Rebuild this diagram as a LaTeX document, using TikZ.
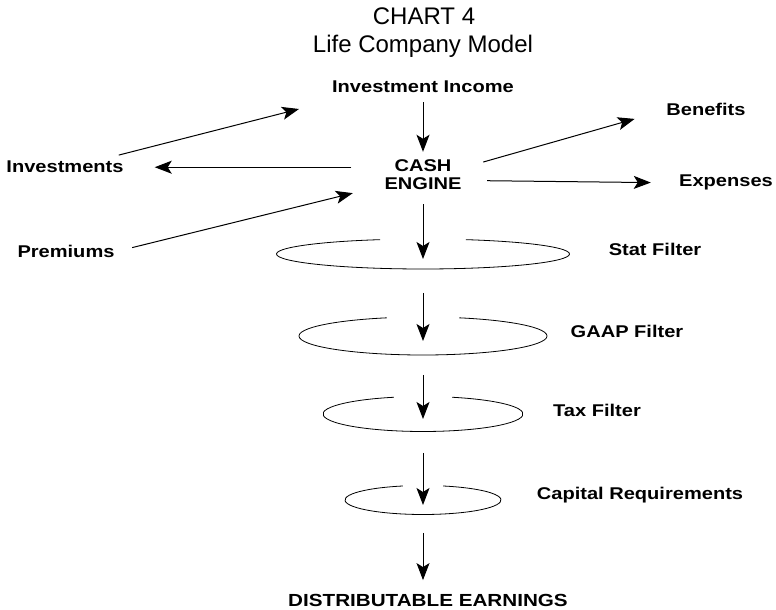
\documentclass[tikz,border=0pt]{standalone}
\usepackage{fontspec}
\setmainfont{Liberation Sans}
\newfontfamily\lblfont[FakeStretch=1.18]{Liberation Sans}
\usetikzlibrary{arrows, arrows.meta}

\begin{document}
\begin{tikzpicture}[x=1pt, y=1pt,
  ttl/.style={anchor=base, inner sep=0pt, font=\fontsize{24}{28}\selectfont},
  lbl/.style={anchor=base, inner sep=0pt, font=\lblfont\bfseries\fontsize{17}{18}\selectfont},
  flow/.style={line width=1pt, -{Stealth[length=17pt, width=13pt, inset=4pt]}},
  filter/.style={line width=0.8pt}]
\useasboundingbox (0,0) rectangle (776,610);

\node[ttl] (chart) at (424,585) {CHART 4};
\node[ttl] (model) at (423,557) {Life Company Model};

\node[lbl] (inc)  at (423,517) {Investment Income};
\node[lbl, anchor=center, align=center] (cash) at (423,435) {CASH\\ENGINE};
\node[lbl] (inv)  at (65,437)  {Investments};
\node[lbl] (prem) at (66,352)  {Premiums};
\node[lbl] (ben)  at (706,494) {Benefits};
\node[lbl] (exp)  at (726,423) {Expenses};

\node[lbl] (stat) at (655,354) {Stat Filter};
\node[lbl] (gaap) at (627,272) {GAAP Filter};
\node[lbl] (tax)  at (597,193) {Tax Filter};
\node[lbl] (capreq) at (640,110) {Capital Requirements};
\node[lbl, font=\lblfont\bfseries\fontsize{17.5}{19}\selectfont] (dist) at (428,3) {DISTRIBUTABLE EARNINGS};

% filters, open at the top where the flow passes
\coordinate (f1) at (423,356);
\coordinate (f2) at (423,274);
\coordinate (f3) at (423,196);
\coordinate (f4) at (423,110);
\draw[filter] (f1) ++(107:146.5 and 15) arc[start angle=107, end angle=433, x radius=146.5, y radius=15];
\draw[filter] (f2) ++(107:124 and 19) arc[start angle=107, end angle=433, x radius=124, y radius=19];
\draw[filter] (f3) ++(107:100 and 17.5) arc[start angle=107, end angle=433, x radius=100, y radius=17.5];
\draw[filter] (f4) ++(105:78 and 14.5) arc[start angle=105, end angle=435, x radius=78, y radius=14.5];

\coordinate (invtip) at (299,501);
\draw[flow] ([shift={(-5,6)}]inv.north east) -- (invtip);
\draw[flow, shorten <=9pt, shorten >=8pt] (inc.south) -- (cash.north);
\draw[flow, shorten <=33pt, shorten >=31pt] (cash.west |- inv.east) -- (inv.east);
\draw[flow, shorten <=18pt, shorten >=32.5pt] (prem.east) -- (cash.195);
\draw[flow, shorten <=22.4pt, shorten >=32.8pt] (cash.10) -- (ben.west);
\draw[flow, shorten <=25.5pt, shorten >=28.2pt] (cash.352) -- (exp.west);

\draw[flow, shorten <=14pt, shorten >=-5pt] (cash.south) -- (f1);
\draw[flow, shorten <=39pt, shorten >=-5pt] (f1) -- (f2);
\draw[flow, shorten <=39pt, shorten >=-5pt] (f2) -- (f3);
\draw[flow, shorten <=39pt, shorten >=-5pt] (f3) -- (f4);
\draw[flow, shorten <=33pt, shorten >=14.5pt] (f4) -- (f4 |- dist.north);
\end{tikzpicture}
\end{document}
